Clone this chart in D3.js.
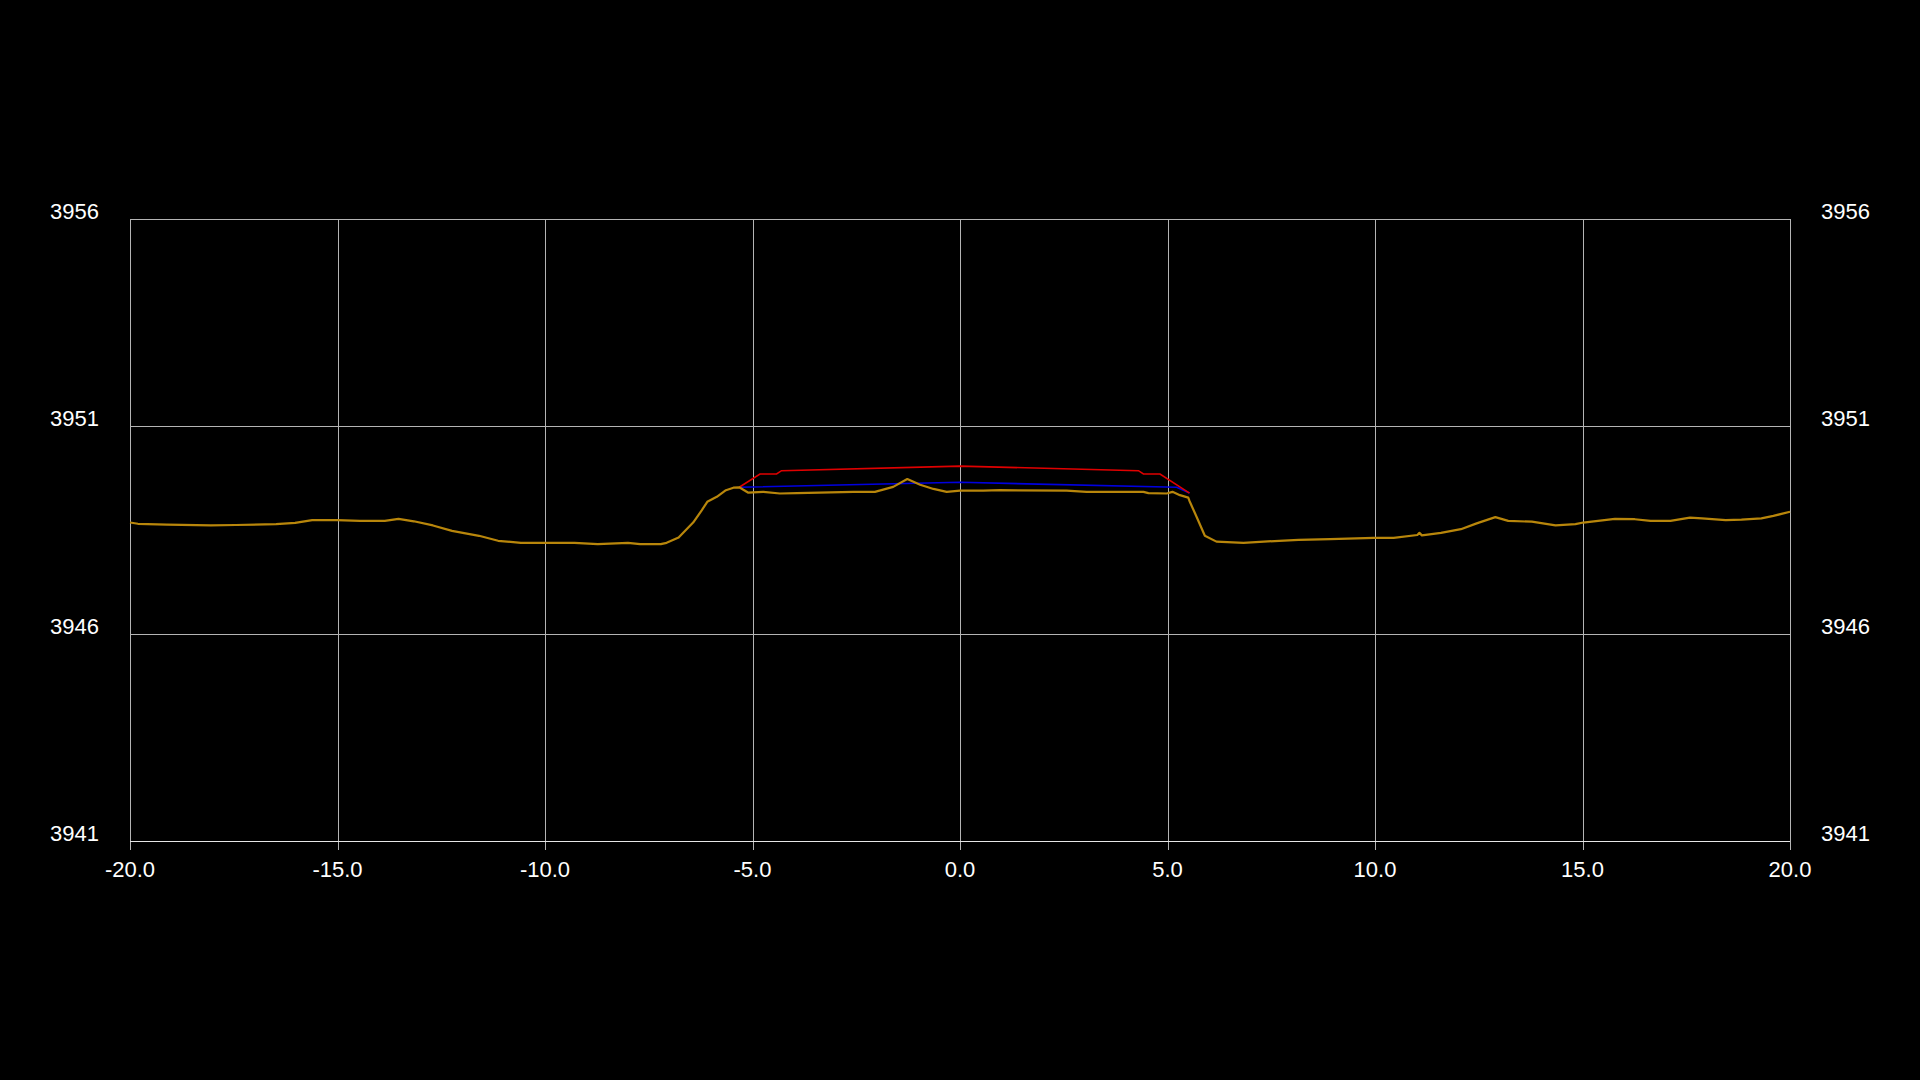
<!DOCTYPE html>
<html><head><meta charset="utf-8">
<script src="https://cdn.jsdelivr.net/npm/d3@7"></script>
<style>html,body{margin:0;padding:0;background:#000;}svg{display:block;}</style>
</head><body>
<svg id="chart" width="1920" height="1080"></svg>
<script>
const xTicks = [-20, -15, -10, -5, 0, 5, 10, 15, 20];
const yTicks = [3941, 3946, 3951, 3956];

const groundX = [-20.00,-19.81,-19.11,-18.05,-17.45,-16.48,-16.02,-15.61,-15.01,-14.46,-13.86,-13.53,-13.16,-12.70,-12.24,-11.59,-11.13,-10.58,-9.66,-9.29,-8.73,-8.00,-7.71,-7.21,-7.07,-6.78,-6.43,-6.22,-6.09,-5.86,-5.64,-5.46,-5.32,-5.10,-4.74,-4.34,-3.93,-2.57,-2.05,-1.61,-1.27,-0.96,-0.64,-0.32,0.00,0.56,0.96,2.57,3.05,4.42,4.54,4.98,5.12,5.30,5.50,5.53,5.70,5.90,6.18,6.83,7.69,8.16,8.92,9.97,10.45,11.02,11.07,11.13,11.59,12.07,12.45,12.90,13.21,13.78,14.35,14.83,15.02,15.78,16.26,16.64,17.12,17.59,17.88,18.45,18.83,19.31,19.60,20.00];
const groundZ = [3948.68,3948.65,3948.63,3948.61,3948.62,3948.64,3948.67,3948.74,3948.74,3948.72,3948.72,3948.77,3948.71,3948.61,3948.48,3948.36,3948.24,3948.19,3948.19,3948.19,3948.16,3948.19,3948.16,3948.16,3948.19,3948.32,3948.68,3948.98,3949.18,3949.30,3949.46,3949.52,3949.53,3949.40,3949.42,3949.38,3949.39,3949.42,3949.42,3949.54,3949.73,3949.59,3949.49,3949.42,3949.45,3949.45,3949.46,3949.45,3949.42,3949.42,3949.39,3949.38,3949.42,3949.34,3949.28,3949.20,3948.82,3948.36,3948.22,3948.19,3948.24,3948.26,3948.28,3948.31,3948.31,3948.38,3948.43,3948.37,3948.43,3948.52,3948.66,3948.81,3948.72,3948.70,3948.61,3948.64,3948.68,3948.77,3948.76,3948.72,3948.72,3948.80,3948.78,3948.74,3948.75,3948.78,3948.84,3948.94];

const designX = [-5.32,-4.82,-4.42,-4.30,0.00,4.30,4.42,4.82,5.53];
const designZ = [3949.53,3949.85,3949.85,3949.93,3950.04,3949.93,3949.85,3949.85,3949.39];

const subX = [-5.32,0.00,5.22,5.53];
const subZ = [3949.53,3949.65,3949.53,3949.39];

const svg = d3.select("#chart");
const L = 130, R = 1790, T = 219, B = 841;
const x = d3.scaleLinear().domain([-20, 20]).range([L, R]);
const y = d3.scaleLinear().domain([3941, 3956]).range([B, T]);
const font = "'Liberation Sans', Arial, sans-serif";

// grid
svg.append("g").selectAll("line.v").data(xTicks).join("line")
  .attr("x1", d => Math.round(x(d)) + 0.5).attr("x2", d => Math.round(x(d)) + 0.5)
  .attr("y1", T).attr("y2", B + 9)
  .attr("stroke", "#b4b4b4").attr("stroke-width", 1);
svg.append("g").selectAll("line.h").data(yTicks).join("line")
  .attr("x1", L).attr("x2", R)
  .attr("y1", d => Math.round(y(d)) + 0.5).attr("y2", d => Math.round(y(d)) + 0.5)
  .attr("stroke", d => d === 3941 ? "#e6e6e6" : "#b4b4b4").attr("stroke-width", 1);

// labels
const fmtX = d => d3.format(".1f")(d).replace("\u2212", "-");
svg.append("g").selectAll("text").data(xTicks).join("text")
  .attr("x", d => x(d)).attr("y", B + 36)
  .attr("text-anchor", "middle").attr("fill", "#fff")
  .attr("font-family", font).attr("font-size", 22)
  .text(fmtX);
svg.append("g").selectAll("text").data(yTicks).join("text")
  .attr("x", 99).attr("y", d => y(d))
  .attr("text-anchor", "end").attr("fill", "#fff")
  .attr("font-family", font).attr("font-size", 22)
  .text(d => d);
svg.append("g").selectAll("text").data(yTicks).join("text")
  .attr("x", 1870).attr("y", d => y(d))
  .attr("text-anchor", "end").attr("fill", "#fff")
  .attr("font-family", font).attr("font-size", 22)
  .text(d => d);

const line = d3.line().x(d => x(d[0])).y(d => y(d[1]));
svg.append("path").datum(subX.map((v, i) => [v, subZ[i]]))
  .attr("d", line).attr("fill", "none").attr("stroke", "#0000e0").attr("stroke-width", 1.6);
svg.append("path").datum(designX.map((v, i) => [v, designZ[i]]))
  .attr("d", line).attr("fill", "none").attr("stroke", "#e00000").attr("stroke-width", 1.6);
svg.append("path").datum(groundX.map((v, i) => [v, groundZ[i]]))
  .attr("d", line).attr("fill", "none").attr("stroke", "#b8860b").attr("stroke-width", 2.2)
  .attr("stroke-linejoin", "round");
</script>
</body></html>
